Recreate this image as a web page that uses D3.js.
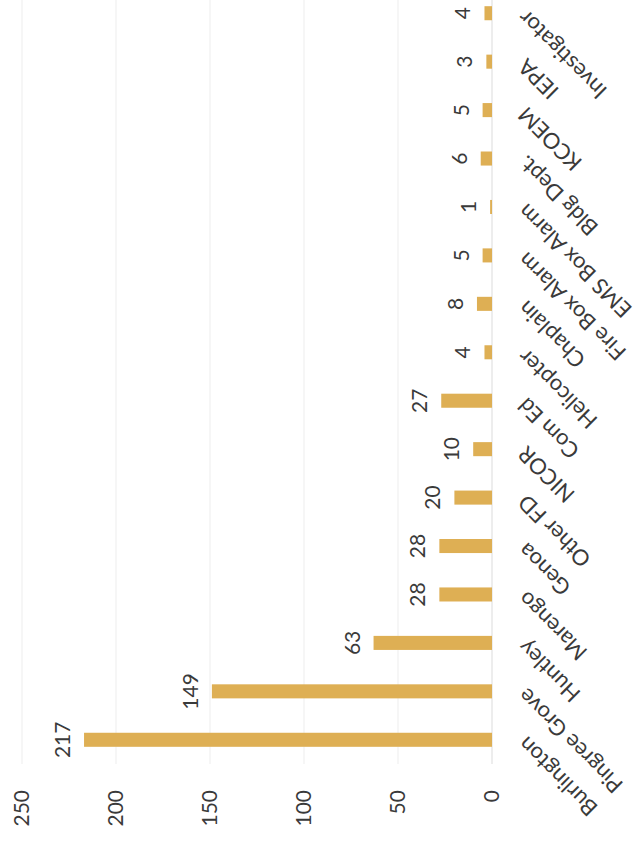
<!DOCTYPE html>
<html>
<head>
<meta charset="utf-8">
<script src="https://cdn.jsdelivr.net/npm/d3@7"></script>
<style>
  body { margin: 0; background: #fff; }
  text { font-family: Lato, "Open Sans", sans-serif; fill: #3a3a3a; }
</style>
</head>
<body>
<div id="chart"></div>
<script>
const w = 639;
const h = 841;

const categories = ['Burlington', 'Pingree Grove', 'Huntley', 'Marengo', 'Genoa', 'Other FD', 'NICOR', 'Com Ed',
    'Helicopter', 'Chaplain', 'Fire Box Alarm', 'EMS Box Alarm', 'Bldg Dept.', 'KCOEM', 'IEPA', 'Investigator'];
const counts = [217, 149, 63, 28, 28, 20, 10, 27, 4, 8, 5, 1, 6, 5, 3, 4];
const ticks = [0, 50, 100, 150, 200, 250];

const data = categories.map((c, i) => ({ name: c, value: counts[i] }));

// the page is a scan of a column chart turned a quarter turn, so draw it upright and rotate the group
const plotW = 775;   // category direction
const plotH = 470;   // value direction

const svg = d3.select('#chart')
    .append('svg')
    .attr('width', w)
    .attr('height', h)
    .style('background-color', '#fff');

const g = svg.append('g')
    .attr('transform', 'translate(22,764) rotate(-90)');

const xScale = d3.scaleBand()
    .domain(categories)
    .range([0, plotW])
    .paddingInner(0.71)
    .paddingOuter(0.355);

const yScale = d3.scaleLinear()
    .domain([0, 250])
    .range([plotH, 0]);

// gridlines
g.selectAll('line.grid')
    .data(ticks)
    .enter()
    .append('line')
    .attr('class', 'grid')
    .attr('x1', 0)
    .attr('x2', plotW)
    .attr('y1', d => yScale(d))
    .attr('y2', d => yScale(d))
    .attr('stroke', d => d === 0 ? '#e4e4e4' : '#f1f1f1')
    .attr('stroke-width', 1.3);

// value axis labels
const yAxis = d3.axisLeft(yScale).tickValues(ticks).tickSize(0).tickPadding(26);
const yG = g.append('g').call(yAxis);
yG.select('.domain').remove();
yG.selectAll('text')
    .style('font-size', '21px')
    .style('fill', '#3a3a3a');

// bars
g.selectAll('rect.bar')
    .data(data)
    .enter()
    .append('rect')
    .attr('class', 'bar')
    .attr('x', d => xScale(d.name))
    .attr('y', d => yScale(d.value))
    .attr('width', xScale.bandwidth())
    .attr('height', d => plotH - yScale(d.value))
    .attr('fill', '#deaf54');

// data labels
g.selectAll('text.val')
    .data(data)
    .enter()
    .append('text')
    .attr('class', 'val')
    .attr('x', d => xScale(d.name) + xScale.bandwidth() / 2)
    .attr('y', d => yScale(d.value) - 14)
    .attr('text-anchor', 'middle')
    .style('font-size', '21px')
    .text(d => d.value);

// category labels, slanted
g.selectAll('text.cat')
    .data(data)
    .enter()
    .append('text')
    .attr('class', 'cat')
    .attr('transform', d => 'translate(' + (xScale(d.name) + xScale.bandwidth() / 2 - 1) + ',' + (plotH + 30) + ') rotate(-45)')
    .attr('text-anchor', 'end')
    .attr('dy', '0.35em')
    .style('font-size', '22px')
    .text(d => d.name);
</script>
</body>
</html>
